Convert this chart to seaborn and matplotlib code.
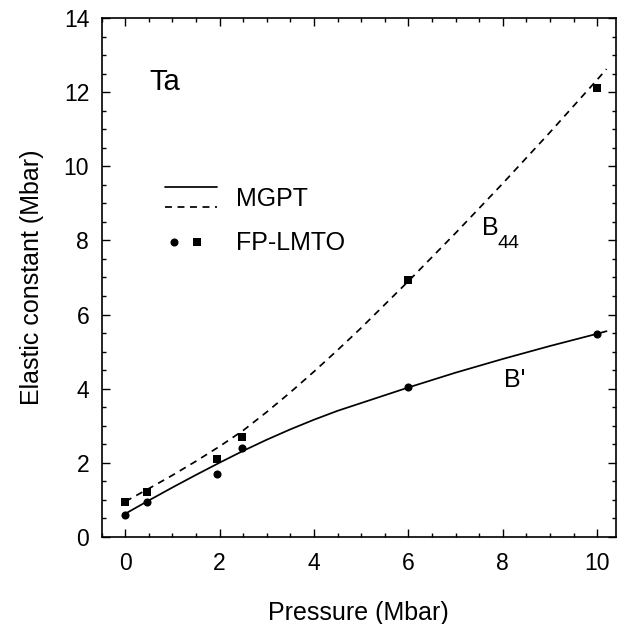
import matplotlib
matplotlib.use("Agg")
import matplotlib.pyplot as plt
import seaborn as sns
import pandas as pd
from matplotlib.lines import Line2D
from matplotlib.legend_handler import HandlerBase
from matplotlib.ticker import MultipleLocator

# ---- data ----
mgpt_pressure = [0, 0.5, 1, 1.5, 2, 2.5, 3, 3.5, 4, 4.5, 5, 6, 7, 8, 9, 10, 10.2]
mgpt_bprime = [0.62, 0.98, 1.33, 1.67, 2.00, 2.32, 2.62, 2.90, 3.16, 3.40, 3.61, 4.03, 4.43, 4.80, 5.15, 5.48, 5.55]
mgpt_b44 = [0.95, 1.30, 1.66, 2.04, 2.44, 2.87, 3.37, 3.90, 4.46, 5.04, 5.64, 6.90, 8.20, 9.54, 10.92, 12.34, 12.63]

lmto_pressure = [0, 0.45, 1.95, 2.48, 6, 10]
lmto_bprime = [0.59, 0.93, 1.68, 2.40, 4.03, 5.47]
lmto_b44 = [0.94, 1.20, 2.10, 2.69, 6.93, 12.11]

x_ticks = [0, 2, 4, 6, 8, 10]
y_ticks = [0, 2, 4, 6, 8, 10, 12, 14]
legend_labels = ["MGPT", "FP-LMTO"]

sns.set_theme(style="ticks")
plt.rcParams["font.family"] = ["Liberation Sans", "DejaVu Sans"]
plt.rcParams.update({"text.color": "black", "axes.labelcolor": "black",
                     "xtick.color": "black", "ytick.color": "black",
                     "axes.edgecolor": "black"})

fig = plt.figure(figsize=(6.25, 6.24), dpi=100)
ax = fig.add_axes([0.1627, 0.1399, 0.8229, 0.8308])

mg = pd.DataFrame({"p": mgpt_pressure, "bp": mgpt_bprime, "b44": mgpt_b44})
lm = pd.DataFrame({"p": lmto_pressure, "bp": lmto_bprime, "b44": lmto_b44})

lw = 1.25
DASH = (4, 3.2)
sns.lineplot(data=mg, x="p", y="bp", ax=ax, color="black", lw=lw)
sns.lineplot(data=mg, x="p", y="b44", ax=ax, color="black", lw=lw)
ax.lines[-1].set_dashes(DASH)
sns.scatterplot(data=lm, x="p", y="bp", ax=ax, color="black", marker="o", s=34,
                linewidth=0, zorder=3)
sns.scatterplot(data=lm, x="p", y="b44", ax=ax, color="black", marker="s", s=30,
                linewidth=0, zorder=3)

ax.set_xlim(-0.5, 10.4)
ax.set_ylim(0, 14)
ax.set_xticks(x_ticks)
ax.set_yticks(y_ticks)
ax.xaxis.set_minor_locator(MultipleLocator(0.5))
ax.yaxis.set_minor_locator(MultipleLocator(0.5))
ax.tick_params(which="both", direction="in", top=True, right=True, width=1.0)
ax.tick_params(which="major", length=6, labelsize=16.5)
ax.tick_params(axis="x", which="major", pad=11)
ax.tick_params(axis="y", which="major", pad=9)
ax.tick_params(which="minor", length=3)
for s in ax.spines.values():
    s.set_linewidth(1.2)

ax.set_xlabel("Pressure (Mbar)", fontsize=18, labelpad=19)
ax.set_ylabel("Elastic constant (Mbar)", fontsize=18, labelpad=14)

ax.text(0.52, 12.06, "Ta", fontsize=21, va="baseline", ha="left")
ax.text(7.56, 8.15, "B", fontsize=18, va="baseline", ha="left")
ax.text(7.88, 7.79, "44", fontsize=14, va="baseline", ha="left")
ax.text(8.02, 4.03, "B'", fontsize=18, va="baseline", ha="left")


class Stack(tuple):
    pass


class Pair(tuple):
    pass


class StackedLines(HandlerBase):
    def create_artists(self, legend, orig_handle, xdescent, ydescent, width, height, fontsize, trans):
        arts = []
        ys = [-ydescent + height * 1.05, -ydescent - height * 0.05]
        for h, y in zip(orig_handle, ys):
            l = Line2D([-xdescent, -xdescent + width], [y, y], color="black", lw=lw)
            if h.get_linestyle() == "--":
                l.set_dashes(DASH)
            l.set_transform(trans)
            arts.append(l)
        return arts


class PairMarkers(HandlerBase):
    def create_artists(self, legend, orig_handle, xdescent, ydescent, width, height, fontsize, trans):
        arts = []
        xs = [-xdescent + width * 0.16, -xdescent + width * 0.61]
        y = -ydescent + height * 0.5
        for h, x in zip(orig_handle, xs):
            l = Line2D([x], [y], color="black", marker=h.get_marker(),
                       markersize=h.get_markersize(), linestyle="none", markeredgewidth=0)
            l.set_transform(trans)
            arts.append(l)
        return arts


solid = Line2D([], [], color="black", linestyle="-")
dashed = Line2D([], [], color="black", linestyle="--")
circ = Line2D([], [], marker="o", markersize=5.8, color="black", linestyle="none")
sq = Line2D([], [], marker="s", markersize=5.5, color="black", linestyle="none")

ax.legend([Stack((solid, dashed)), Pair((circ, sq))], legend_labels,
          handler_map={Stack: StackedLines(), Pair: PairMarkers()},
          frameon=False, fontsize=18, handlelength=2.05, handletextpad=0.78,
          labelspacing=0.82, loc="upper left", bbox_to_anchor=(0.124, 0.675),
          borderaxespad=0, borderpad=0)

fig.savefig("out.png", dpi=100)
